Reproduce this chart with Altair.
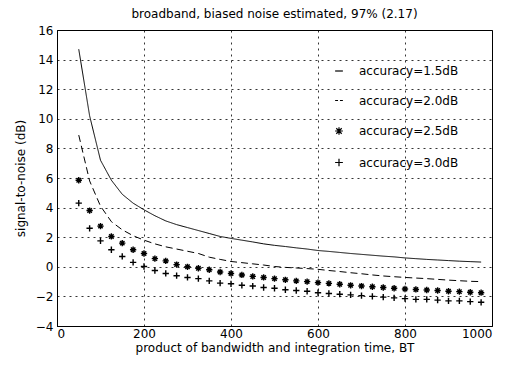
import altair as alt
import pandas as pd

bt = [50, 75, 100, 125, 150, 175, 200, 225, 250, 275, 300, 325, 350, 375, 400,
      425, 450, 475, 500, 525, 550, 575, 600, 625, 650, 675, 700, 725, 750, 775,
      800, 825, 850, 875, 900, 925, 950, 975]

snr_15 = [14.7, 10.2, 7.2, 5.85, 4.9, 4.3, 3.85, 3.45, 3.1, 2.85, 2.65, 2.45, 2.25,
          2.05, 1.92, 1.8, 1.68, 1.55, 1.45, 1.37, 1.28, 1.2, 1.1, 1.04, 0.97, 0.9,
          0.84, 0.78, 0.72, 0.67, 0.6, 0.55, 0.5, 0.46, 0.42, 0.38, 0.35, 0.32]
snr_20 = [8.9, 5.8, 4.1, 3.05, 2.5, 2.1, 1.8, 1.55, 1.35, 1.2, 1.05, 0.9, 0.65,
          0.5, 0.36, 0.28, 0.2, 0.12, 0.02, -0.04, -0.08, -0.12, -0.17, -0.25,
          -0.32, -0.4, -0.47, -0.55, -0.62, -0.67, -0.72, -0.76, -0.8, -0.85,
          -0.9, -0.94, -0.98, -1.0]
snr_25 = [5.85, 3.8, 2.75, 2.05, 1.6, 1.15, 0.9, 0.55, 0.4, 0.15, 0.0, -0.1, -0.2,
          -0.35, -0.45, -0.55, -0.65, -0.72, -0.8, -0.88, -0.95, -1.0, -1.07,
          -1.12, -1.18, -1.25, -1.3, -1.35, -1.4, -1.45, -1.5, -1.53, -1.57,
          -1.6, -1.65, -1.68, -1.72, -1.75]
snr_30 = [4.3, 2.6, 1.75, 1.15, 0.7, 0.3, 0.02, -0.25, -0.45, -0.6, -0.72, -0.8,
          -0.95, -1.1, -1.15, -1.25, -1.3, -1.4, -1.45, -1.55, -1.6, -1.65, -1.75,
          -1.8, -1.85, -1.9, -1.95, -2.0, -2.05, -2.1, -2.15, -2.2, -2.2, -2.25,
          -2.3, -2.3, -2.35, -2.4]

labels = ["accuracy=1.5dB", "accuracy=2.0dB", "accuracy=2.5dB", "accuracy=3.0dB"]
x_ticks = [0, 200, 400, 600, 800, 1000]
y_ticks = [-4, -2, 0, 2, 4, 6, 8, 10, 12, 14, 16]

rows = []
for lab, vals in zip(labels, [snr_15, snr_20, snr_25, snr_30]):
    for b, v in zip(bt, vals):
        rows.append({"BT": b, "SNR": v, "series": lab})
df = pd.DataFrame(rows)

FONT = "DejaVu Sans"

common_axis = dict(grid=True, gridColor="black", gridDash=[2, 4], gridOpacity=1,
                   gridWidth=0.8, domainColor="black", domainWidth=1, ticks=False,
                   labelFont=FONT, labelFontSize=12, labelColor="black", format="d",
                   titleFont=FONT, titleFontSize=12, titleFontWeight="normal",
                   titleColor="black")

x = alt.X("BT:Q", scale=alt.Scale(domain=[0, 1000], nice=False),
          axis=alt.Axis(values=x_ticks, title="product of bandwidth and integration time, BT",
                        labelPadding=2, titlePadding=3, **common_axis))
y = alt.Y("SNR:Q", scale=alt.Scale(domain=[-4, 16], nice=False),
          axis=alt.Axis(values=y_ticks, title="signal-to-noise (dB)",
                        labelPadding=4, titlePadding=8, **common_axis))

solid_p = "M-1,0L1,0"
dashed_p = "M-1,0L-0.25,0M0.25,0L1,0"
star_p = "M-1,0L1,0M0,-1L0,1M-0.7,-0.7L0.7,0.7M-0.7,0.7L0.7,-0.7"
plus_p = "M-1,0L1,0M0,-1L0,1"

lines = alt.Chart(df).transform_filter(
    alt.FieldOneOfPredicate(field="series", oneOf=labels[:2])
).mark_line(color="black", strokeWidth=1).encode(
    x=x, y=y,
    strokeDash=alt.StrokeDash("series:N",
                              scale=alt.Scale(domain=labels[:2], range=[[1, 0], [7, 4]]),
                              legend=None),
    detail="series:N",
)

points = alt.Chart(df).transform_filter(
    alt.FieldOneOfPredicate(field="series", oneOf=labels[2:])
).mark_point(color="black", filled=False, size=40, strokeWidth=1.4, opacity=1).encode(
    x=x, y=y,
    shape=alt.Shape("series:N",
                    scale=alt.Scale(domain=labels, range=[solid_p, dashed_p, star_p, plus_p]),
                    legend=alt.Legend(title=None, orient="none", legendX=276, legendY=35,
                                      symbolSize=60, symbolStrokeColor="black",
                                      symbolFillColor="transparent", symbolStrokeWidth=1.2,
                                      labelFontSize=12, labelFont=FONT, labelColor="black",
                                      rowPadding=17.5, labelOffset=14)),
)

chart = (lines + points).properties(
    width=435, height=296,
    background="white",
    autosize=alt.AutoSizeParams(type="none"),
    padding={"left": 57, "top": 30, "right": 27, "bottom": 41},
    title=alt.Title("broadband, biased noise estimated, 97% (2.17)", fontSize=12,
                    fontWeight="normal", font=FONT, color="black", offset=3),
).configure_view(
    stroke="black", strokeWidth=1
)

chart.save("out.html", embed_options={"renderer": "svg", "actions": False})
